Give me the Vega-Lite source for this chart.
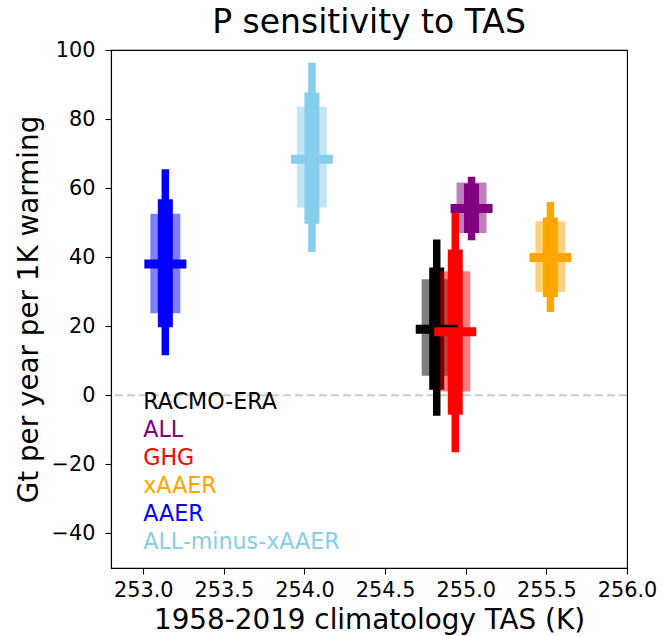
{
  "$schema": "https://vega.github.io/schema/vega-lite/v6.json",
  "width": 516,
  "height": 518,
  "autosize": {"type": "none"},
  "padding": {"left": 111, "top": 50, "right": 35, "bottom": 68},
  "background": "white",
  "title": {"text": "P sensitivity to TAS", "fontSize": 33, "font": "DejaVu Sans", "fontWeight": "normal", "color": "black", "offset": -27, "baseline": "alphabetic", "anchor": "middle", "frame": "group"},
  "config": {
    "font": "DejaVu Sans",
    "view": {"stroke": "black", "strokeWidth": 1.1},
    "axis": {"grid": false, "domainColor": "black", "tickColor": "black", "labelColor": "black", "titleColor": "black", "labelFont": "DejaVu Sans", "titleFont": "DejaVu Sans", "labelFontSize": 20.8, "titleFontSize": 27.8, "titleFontWeight": "normal", "tickSize": 6, "domainWidth": 1.1, "tickWidth": 1.1, "labelFlush": false, "labelOverlap": false}
  },
  "datasets": {
    "bars": [
      {"model": "RACMO-ERA", "i": 0, "tas": 254.82, "kind": "light", "low": 5.7, "high": 33.6},
      {"model": "RACMO-ERA", "i": 0, "tas": 254.82, "kind": "thick", "low": 1.6, "high": 37.0},
      {"model": "RACMO-ERA", "i": 0, "tas": 254.82, "kind": "thin", "low": -5.9, "high": 45.1},
      {"model": "ALL", "i": 1, "tas": 255.036, "kind": "light", "low": 47.0, "high": 61.6},
      {"model": "ALL", "i": 1, "tas": 255.036, "kind": "thick", "low": 47.0, "high": 61.3},
      {"model": "ALL", "i": 1, "tas": 255.036, "kind": "thin", "low": 44.9, "high": 63.3},
      {"model": "GHG", "i": 2, "tas": 254.935, "kind": "light", "low": 1.1, "high": 35.9},
      {"model": "GHG", "i": 2, "tas": 254.935, "kind": "thick", "low": -5.6, "high": 42.2},
      {"model": "GHG", "i": 2, "tas": 254.935, "kind": "thin", "low": -16.5, "high": 53.4},
      {"model": "xAAER", "i": 3, "tas": 255.525, "kind": "light", "low": 29.9, "high": 50.4},
      {"model": "xAAER", "i": 3, "tas": 255.525, "kind": "thick", "low": 28.5, "high": 51.5},
      {"model": "xAAER", "i": 3, "tas": 255.525, "kind": "thin", "low": 24.1, "high": 56.0},
      {"model": "AAER", "i": 4, "tas": 253.137, "kind": "light", "low": 23.8, "high": 52.6},
      {"model": "AAER", "i": 4, "tas": 253.137, "kind": "thick", "low": 19.7, "high": 56.8},
      {"model": "AAER", "i": 4, "tas": 253.137, "kind": "thin", "low": 11.6, "high": 65.5},
      {"model": "ALL-minus-xAAER", "i": 5, "tas": 254.046, "kind": "light", "low": 54.4, "high": 83.6},
      {"model": "ALL-minus-xAAER", "i": 5, "tas": 254.046, "kind": "thick", "low": 49.7, "high": 87.7},
      {"model": "ALL-minus-xAAER", "i": 5, "tas": 254.046, "kind": "thin", "low": 41.5, "high": 96.3}
    ],
    "centers": [
      {"model": "RACMO-ERA", "tas": 254.82, "value": 19.1},
      {"model": "ALL", "tas": 255.036, "value": 54.1},
      {"model": "GHG", "tas": 254.935, "value": 18.4},
      {"model": "xAAER", "tas": 255.525, "value": 39.9},
      {"model": "AAER", "tas": 253.137, "value": 38.0},
      {"model": "ALL-minus-xAAER", "tas": 254.046, "value": 68.4}
    ]
  },
  "layer": [
    {
      "data": {"values": [{}]},
      "mark": {"type": "rule", "color": "#cccccc", "strokeDash": [8, 4], "strokeWidth": 2},
      "encoding": {"y": {"datum": 0, "type": "quantitative"}}
    },
    {
      "data": {"name": "bars"},
      "mark": {"type": "rule", "strokeCap": "butt"},
      "encoding": {
        "x": {"field": "tas", "type": "quantitative", "scale": {"domain": [252.8, 256.0], "nice": false, "zero": false},
              "axis": {"values": [253, 253.5, 254, 254.5, 255, 255.5, 256], "format": ".1f", "title": "1958-2019 climatology TAS (K)", "labelPadding": 6, "titlePadding": 7}},
        "y": {"field": "low", "type": "quantitative", "scale": {"domain": [-50, 100], "nice": false, "zero": false},
              "axis": {"values": [-40, -20, 0, 20, 40, 60, 80, 100], "title": "Gt per year per 1K warming", "labelPadding": 10, "titlePadding": 8}},
        "y2": {"field": "high"},
        "color": {"field": "model", "type": "nominal",
                  "scale": {"domain": ["RACMO-ERA", "ALL", "GHG", "xAAER", "AAER", "ALL-minus-xAAER"], "range": ["#000000", "#800080", "#ff0000", "#ffa500", "#0000ff", "#87ceeb"]},
                  "legend": {"orient": "none", "legendX": 10, "legendY": 341, "title": null, "symbolSize": 0, "symbolOpacity": 0, "symbolStrokeWidth": 0, "labelFontSize": 22.2, "labelFont": "DejaVu Sans", "labelOffset": 0, "rowPadding": 4.9, "padding": 0, "labelLimit": 400,
                             "encode": {"labels": {"update": {"fill": {"scale": "color", "field": "value"}}}}}},
        "strokeWidth": {"field": "kind", "type": "nominal", "scale": {"type": "ordinal", "domain": ["light", "thick", "thin"], "range": [30, 15, 7.5]}, "legend": null},
        "opacity": {"field": "kind", "type": "nominal", "scale": {"type": "ordinal", "domain": ["light", "thick", "thin"], "range": [0.5, 1, 1]}, "legend": null},
        "order": [{"field": "i", "type": "quantitative"}, {"field": "kind", "type": "nominal"}]
      }
    },
    {
      "data": {"name": "centers"},
      "mark": {"type": "tick", "orient": "horizontal", "size": 42, "thickness": 9, "opacity": 1},
      "encoding": {
        "x": {"field": "tas", "type": "quantitative"},
        "y": {"field": "value", "type": "quantitative"},
        "color": {"field": "model", "type": "nominal"}
      }
    }
  ]
}
